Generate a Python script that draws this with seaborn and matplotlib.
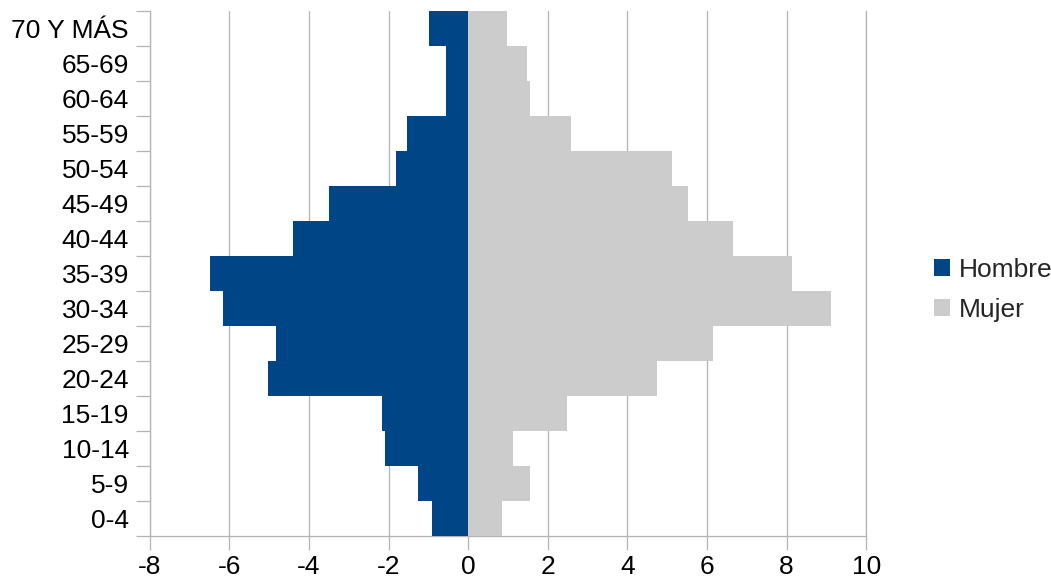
import numpy as np
import pandas as pd
import matplotlib
matplotlib.use("Agg")
import matplotlib.pyplot as plt
from matplotlib.ticker import FixedLocator
from matplotlib.patches import Patch
import seaborn as sns

ages = ["0-4", "5-9", "10-14", "15-19", "20-24", "25-29", "30-34", "35-39",
        "40-44", "45-49", "50-54", "55-59", "60-64", "65-69", "70 Y MÁS"]
hombre = [-0.91, -1.26, -2.09, -2.16, -5.03, -4.83, -6.16, -6.49,
          -4.40, -3.50, -1.81, -1.53, -0.55, -0.55, -0.98]
mujer = [0.86, 1.56, 1.13, 2.47, 4.75, 6.16, 9.11, 8.13,
         6.64, 5.53, 5.11, 2.59, 1.56, 1.48, 0.98]
series = ["Hombre", "Mujer"]
colors = ["#004586", "#cccccc"]
xticks = [-8, -6, -4, -2, 0, 2, 4, 6, 8, 10]

sns.set_theme(style="white")
plt.rcParams['font.family'] = ['Liberation Sans', 'DejaVu Sans']

df = pd.DataFrame({
    "edad": ages * 2,
    "valor": hombre + mujer,
    "sexo": ["Hombre"] * len(ages) + ["Mujer"] * len(ages),
})

fig = plt.figure(figsize=(10.51, 5.82), dpi=100)
ax = fig.add_axes([149.7 / 1051, 1 - 535.7 / 582, (866.3 - 149.7) / 1051, (535.7 - 11) / 582])

sns.barplot(data=df, y="edad", x="valor", hue="sexo", order=ages[::-1],
            hue_order=series, palette=colors, dodge=False, width=1.0,
            orient="h", saturation=1, legend=False, ax=ax, zorder=3,
            linewidth=0, edgecolor="none")

grid_c = "#b3b3b3"
ax.set_xlim(-8, 10)
ax.set_ylim(len(ages) - 0.5, -0.5)
ax.set_xticks(xticks)
ax.set_xticklabels([str(v) for v in xticks])
ax.xaxis.grid(True, color=grid_c, lw=0.9, zorder=0)
ax.yaxis.grid(False)
ax.set_axisbelow(True)
ax.set_xlabel("")
ax.set_ylabel("")

fs = 19
ax.yaxis.set_minor_locator(FixedLocator(np.arange(-0.5, len(ages), 1.0)))
ax.tick_params(axis="y", which="major", length=0, pad=15, labelsize=fs, labelcolor="black")
ax.tick_params(axis="y", which="minor", length=10, width=0.9, color=grid_c, left=True)
ax.tick_params(axis="x", which="major", length=10, width=0.9, color=grid_c, bottom=True,
               pad=4, labelsize=fs, labelcolor="black")

ax.spines["top"].set_visible(False)
for s in ["left", "bottom", "right"]:
    ax.spines[s].set_color(grid_c)
    ax.spines[s].set_linewidth(0.9)

handles = [Patch(facecolor=c, edgecolor="none", label=l) for c, l in zip(colors, series)]
fig.legend(handles=handles, loc="center left", bbox_to_anchor=(934 / 1051, 1 - 290 / 582),
           frameon=False, fontsize=fs, handlelength=0.6, handleheight=0.6,
           handletextpad=0.35, labelspacing=0.6, borderaxespad=0, borderpad=0)

fig.savefig("out.png", dpi=100)
